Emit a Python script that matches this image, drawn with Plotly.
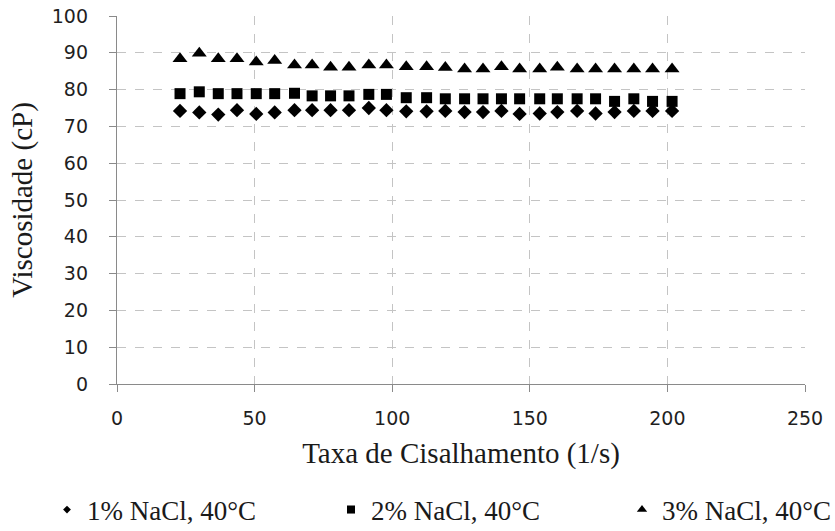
import plotly.graph_objects as go

shear_rate = [22.9, 29.9, 36.8, 43.6, 50.6, 57.3, 64.5, 70.9, 77.6, 84.3, 91.5, 97.9,
              105.1, 112.5, 119.3, 126.3, 133.0, 139.7, 146.3, 153.6, 160.0, 167.2,
              173.9, 180.8, 187.8, 194.6, 201.7]

visc_1 = [74.2, 73.8, 73.2, 74.4, 73.4, 73.8, 74.4, 74.4, 74.4, 74.4, 75.0, 74.4,
          74.1, 74.1, 74.2, 73.9, 73.9, 74.2, 73.4, 73.5, 73.9, 74.2, 73.5, 73.9,
          74.2, 74.2, 74.2]
visc_2 = [78.9, 79.4, 78.9, 78.9, 78.9, 78.9, 79.0, 78.3, 78.3, 78.3, 78.7, 78.7,
          77.8, 77.8, 77.5, 77.5, 77.5, 77.5, 77.5, 77.5, 77.5, 77.5, 77.5, 76.8,
          77.5, 76.8, 76.8]
visc_3 = [88.4, 89.9, 88.4, 88.4, 87.5, 87.9, 86.7, 86.7, 86.1, 86.1, 86.7, 86.7,
          86.2, 86.2, 86.0, 85.6, 85.6, 86.2, 85.6, 85.6, 86.1, 85.6, 85.6, 85.6,
          85.6, 85.6, 85.6]

names = ["1% NaCl, 40°C", "2% NaCl, 40°C", "3% NaCl, 40°C"]
series = [visc_1, visc_2, visc_3]
symbols = ["diamond", "square", "triangle-up"]
sizes = [11, 11, 13]
legend_sizes = [6, 8, 9]
legend_ids = ["legend", "legend2", "legend3"]
legend_x = [89, 373, 664]  # text start, pixels

serif = "Liberation Serif"

fig = go.Figure()
for name, vals, sym, sz in zip(names, series, symbols, sizes):
    fig.add_trace(go.Scatter(x=shear_rate, y=vals, mode="markers", name=name,
                             showlegend=False,
                             marker=dict(symbol=sym, size=sz, color="black")))
for name, sym, lsz, lid in zip(names, symbols, legend_sizes, legend_ids):
    fig.add_trace(go.Scatter(x=[None], y=[None], mode="markers", name=name,
                             legend=lid,
                             marker=dict(symbol=sym, size=lsz, color="black")))

L, R, T, B = 117, 30, 16, 147
W, H = 835, 531

legend_common = dict(orientation="h", yanchor="middle", xanchor="left",
                     xref="container", yref="container",
                     font=dict(family=serif, size=27, color="#1a1a1a"),
                     bgcolor="rgba(0,0,0,0)", itemsizing="trace",
                     itemwidth=30, tracegroupgap=0)
legends = {}
for lid, tx in zip(legend_ids, legend_x):
    px = tx - 40 - 2
    legends[lid] = dict(legend_common, x=px / W, y=(H - 510) / H)

axis_common = dict(showgrid=True, gridcolor="#c4c4c4", griddash="dash", gridwidth=1,
                   showline=True, linecolor="#8a8a8a", linewidth=1.3,
                   ticks="outside", tickcolor="#8a8a8a", ticklen=7, tickwidth=1.3,
                   zeroline=False, automargin=False,
                   tickfont=dict(family="DejaVu Sans", size=19, color="#1f1f1f"))

fig.update_layout(
    width=W, height=H,
    margin=dict(l=L, r=R, t=T, b=B, autoexpand=False),
    paper_bgcolor="white", plot_bgcolor="white",
    xaxis=dict(axis_common, range=[0, 250], dtick=50, tick0=0,
               ticklabelstandoff=10,
               title=dict(text="Taxa de Cisalhamento (1/s)", standoff=14,
                          font=dict(family=serif, size=29, color="#1a1a1a"))),
    yaxis=dict(axis_common, range=[0, 100], dtick=10, tick0=0,
               ticklabelstandoff=17,
               title=dict(text="Viscosidade (cP)", standoff=10,
                          font=dict(family=serif, size=29, color="#1a1a1a"))),
    **legends,
)

fig.write_html("out.html")
